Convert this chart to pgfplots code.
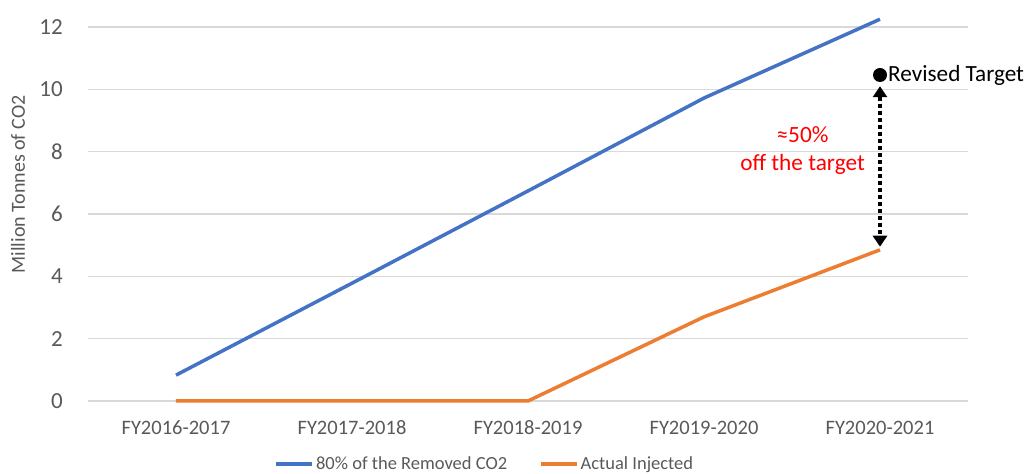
\documentclass[border=0pt]{standalone}
\usepackage{fontspec}
\setmainfont{Carlito}
\usepackage{pgfplots}
\pgfplotsset{compat=1.18}
\usetikzlibrary{arrows.meta}
\definecolor{xlblue}{HTML}{4472C4}
\definecolor{xlorange}{HTML}{ED7D31}
\definecolor{gridgray}{HTML}{D9D9D9}
\definecolor{txtgray}{HTML}{595959}
\begin{document}
\begin{tikzpicture}[x=1pt,y=1pt]
\useasboundingbox (-88,-73) rectangle (938,401);
\begin{axis}[
    scale only axis,
    width=880pt, height=374pt,
    at={(0,0)}, anchor=south west,
    xmin=-0.5, xmax=4.5,
    ymin=0, ymax=12,
    xtick={0,1,2,3,4},
    xticklabels={FY2016-2017,FY2017-2018,FY2018-2019,FY2019-2020,FY2020-2021},
    ytick={0,2,4,6,8,10,12},
    axis line style={draw=none},
    x axis line style={draw=gridgray},
    major tick length=0pt,
    ymajorgrids,
    grid style={draw=gridgray, line width=1.2pt},
    clip=false,
    /pgf/number format/assume math mode=true,
    yticklabel style={font=\fontsize{23}{23}\selectfont, text=txtgray, inner sep=0pt, anchor=east, xshift=-25pt},
    xticklabel style={font=\fontsize{20.5}{20.5}\selectfont, text=txtgray, inner sep=0pt, anchor=center, yshift=-27pt},
    ylabel={Million Tonnes of CO2},
    every axis y label/.style={at={(axis description cs:-0.0795,0.579)}, rotate=90, anchor=center, font=\fontsize{20}{20}\selectfont, text=txtgray},
    legend style={at={(axis description cs:0.451,-0.168)}, anchor=center, draw=none,
        fill=none, legend columns=2, font=\fontsize{18.5}{18.5}\selectfont, text=txtgray,
        /tikz/every even column/.append style={column sep=30pt}},
    legend image code/.code={\draw[#1, line width=3.5pt] (0pt,0pt) -- (36pt,0pt);},
]
\addplot[xlblue, line width=3.5pt, line join=round] coordinates {
    (0,0.83) (1,3.78) (2,6.74) (3,9.72) (4,12.25)};
\addlegendentry{80\% of the Removed CO2}
\addplot[xlorange, line width=3.5pt, line join=round] coordinates {
    (0,0) (1,0) (2,0) (3,2.7) (4,4.85)};
\addlegendentry{Actual Injected}

\fill[black] (axis cs:4,10.46) circle (7pt);
\node[anchor=west, font=\fontsize{23.2}{23.2}\selectfont, inner sep=0pt] at ([xshift=8pt]axis cs:4,10.46) {Revised Target};
\draw[black, line width=3.8pt, dash pattern=on 4pt off 3pt,
    {Triangle[width=14pt,length=11pt,sep=0pt]}-{Triangle[width=14pt,length=11pt]}]
    (axis cs:4,10.1) -- (axis cs:4,4.95);
\node[align=center, text=red, font=\fontsize{23.3}{28}\selectfont] at (axis cs:3.56,8.05) {≈50\%\\off the target};
\end{axis}
\end{tikzpicture}
\end{document}
